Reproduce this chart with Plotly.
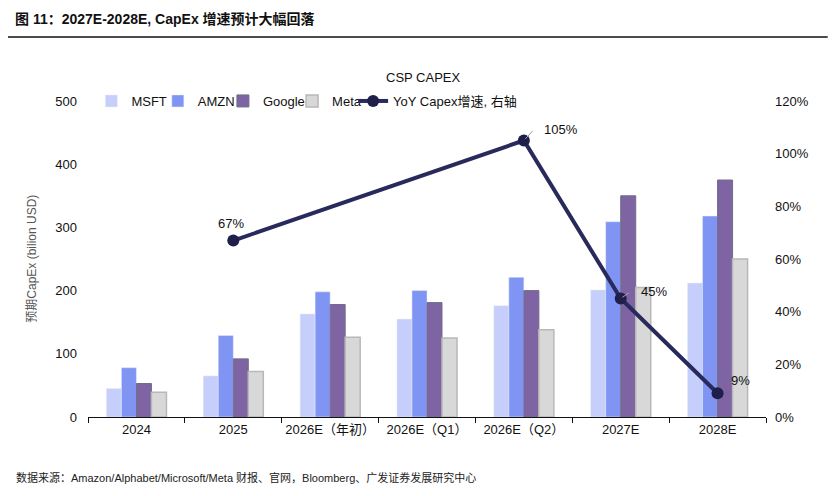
import plotly.graph_objects as go

categories = ["2024", "2025", "2026E（年初）", "2026E（Q1）", "2026E（Q2）", "2027E", "2028E"]
msft = [45, 65, 163, 155, 176, 201, 212]
amzn = [78, 129, 198, 200, 221, 309, 318]
google = [53, 92, 178, 181, 200, 350, 375]
meta = [39, 72, 126, 125, 138, 205, 250]
# YoY capex growth, right axis (%), only 4 points labelled
yoy = [None, 67, None, None, 105, 45, 9]

font_main = "Liberation Sans, Arial, Noto Sans CJK SC"

fig = go.Figure()

fig.add_trace(go.Bar(x=categories, y=msft, name="MSFT", legend="legend",
                     marker=dict(color="#c6cffb")))
fig.add_trace(go.Bar(x=categories, y=amzn, name="AMZN", legend="legend2",
                     marker=dict(color="#8094f3")))
fig.add_trace(go.Bar(x=categories, y=google, name="Google", legend="legend3",
                     marker=dict(color="#7e64a3", line=dict(color="#6e6e8a", width=1))))
fig.add_trace(go.Bar(x=categories, y=meta, name="Meta", legend="legend4",
                     marker=dict(color="#d8d8d8", line=dict(color="#b8b8b8", width=1.5))))

fig.add_trace(go.Scatter(
    x=categories, y=yoy, name="YoY Capex增速, 右轴", yaxis="y2", legend="legend5",
    mode="lines+markers", connectgaps=True,
    line=dict(color="#292a5c", width=4),
    marker=dict(color="#1e1f4a", size=12),
))

# data labels of the growth line (annotations placed by category index)
label_pos = {1: (-2, 17, 0, 0), 4: (18, 11, 10, -11),
             5: (18, 7, 10, -7), 6: (11, 13, 0, 0)}
for i, v in enumerate(yoy):
    if v is None:
        continue
    xs, ys, ax, ay = label_pos[i]
    if ax:
        fig.add_annotation(x=i, y=v, xref="x", yref="y2", text="",
                           showarrow=True, arrowhead=0, arrowwidth=1, arrowcolor="#a0a0a0",
                           ax=ax, ay=ay, standoff=2)
    fig.add_annotation(x=i, y=v, xref="x", yref="y2", text=f"{v}%", showarrow=False,
                       xshift=xs, yshift=ys, xanchor="left" if xs > 0 else "center",
                       font=dict(size=13, color="#111111"))

# header, rule, subtitle, footer, axis title
fig.add_annotation(x=-0.11, y=1.258, xref="paper", yref="paper", xanchor="left", yanchor="middle",
                   text="<b>图 11：2027E-2028E, CapEx 增速预计大幅回落</b>", showarrow=False,
                   font=dict(size=14, color="#111111"))
fig.add_shape(type="line", xref="paper", yref="paper", x0=-0.118, x1=1.091, y0=1.2025, y1=1.2025,
              line=dict(color="#111111", width=1.5))
fig.add_annotation(x=0.495, y=1.104, xref="paper", yref="paper", text="CSP CAPEX", showarrow=False,
                   font=dict(size=13, color="#111111"))
fig.add_annotation(x=-0.109, y=-0.19, xref="paper", yref="paper", xanchor="left", yanchor="middle",
                   text="数据来源：Amazon/Alphabet/Microsoft/Meta 财报、官网，Bloomberg、广发证券发展研究中心",
                   showarrow=False, font=dict(size=11, color="#222222"))
fig.add_annotation(x=-0.086, y=0.5, xref="paper", yref="paper", textangle=-90, xshift=-7,
                   text="预期CapEx (bilion USD)", showarrow=False,
                   font=dict(size=12, color="#555555"))

legend_style = dict(orientation="h", y=1.0, xanchor="left", yanchor="middle",
                    font=dict(size=13), itemwidth=30, bgcolor="rgba(0,0,0,0)")

fig.update_layout(
    width=836, height=496,
    margin=dict(l=80, r=78, t=93, b=87),
    paper_bgcolor="white", plot_bgcolor="white",
    font=dict(family=font_main, size=13, color="#111111"),
    barmode="group", bargap=0.38, bargroupgap=0,
    showlegend=True,
    legend=dict(x=0.005, **legend_style),
    legend2=dict(x=0.103, **legend_style),
    legend3=dict(x=0.199, **legend_style),
    legend4=dict(x=0.301, **legend_style),
    legend5=dict(x=0.391, **legend_style),
    xaxis=dict(type="category", range=[-0.5, 6.5], showline=True, linecolor="#111111",
               linewidth=1.2, ticks="outside", tickson="boundaries", ticklen=5,
               tickcolor="#111111", showgrid=False, tickfont=dict(size=13), tickangle=0),
    yaxis=dict(range=[0, 500], dtick=100, showgrid=False, zeroline=False, showline=False,
               ticklabelstandoff=10, tickfont=dict(size=13)),
    yaxis2=dict(range=[0, 120], dtick=20, ticksuffix="%", overlaying="y", side="right",
                showgrid=False, zeroline=False, showline=False, ticklabelstandoff=8,
                tickfont=dict(size=13)),
)

fig.write_html("out.html")
